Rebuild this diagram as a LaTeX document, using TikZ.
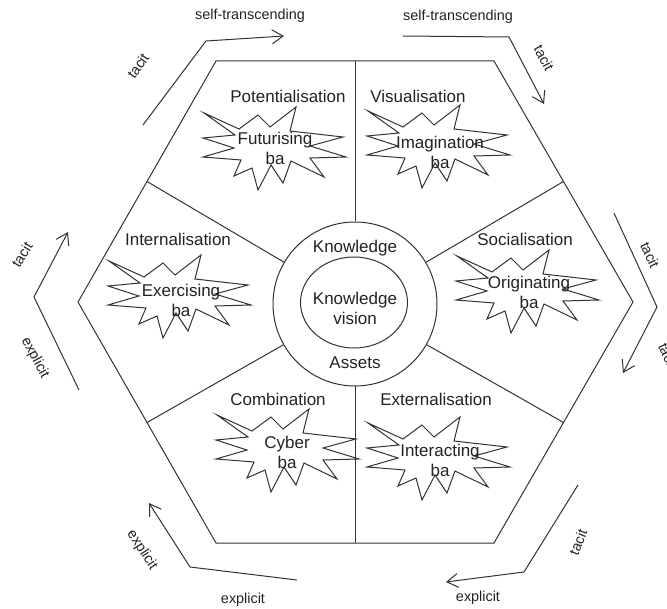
\documentclass[tikz,border=0pt]{standalone}
\usepackage{fontspec}
\setmainfont{Liberation Sans}
\usetikzlibrary{arrows.meta,shapes.geometric}
\definecolor{ink}{HTML}{222222}
\definecolor{linec}{HTML}{333333}
\begin{document}
\begin{tikzpicture}[x=1pt,y=-1pt,
  big/.style={font=\fontsize{17}{20}\selectfont, text=ink, align=center, inner sep=0},
  small/.style={font=\fontsize{14.4}{16}\selectfont, text=ink, inner sep=0},
  frame/.style={draw=linec, line width=1pt},
  arr/.style={draw=linec, line width=1pt, line join=miter, -{Straight Barb[length=11pt,width=14pt]}},
  kaboom/.pic={\draw[draw=linec, line width=1pt, line join=miter, miter limit=20]
    (-70,-36) -- (-35,-20) -- (-16,-34) -- (-4,-22) -- (22,-42) -- (16,-18)
    -- (69,-12) -- (36,-3) -- (72,8) -- (36,9) -- (50,28) -- (17,12)
    -- (9,34) -- (-3,16) -- (-16,41) -- (-22,19) -- (-40,27) -- (-33,11)
    -- (-71,8) -- (-40,-1) -- (-71,-11) -- (-39,-14) -- cycle;}
]
\useasboundingbox (0,0) rectangle (667,609);

% hexagon
\coordinate (vTL) at (216,61);
\coordinate (vTR) at (494,61);
\coordinate (vR) at (633,302);
\coordinate (vBR) at (494,543);
\coordinate (vBL) at (216,543);
\coordinate (vL) at (78,302);
\draw[frame] (vTL) -- (vTR) -- (vR) -- (vBR) -- (vBL) -- (vL) -- cycle;

% centre circles
\node[circle, draw=linec, line width=1pt, minimum size=164pt, inner sep=0] (outer) at (355,304) {};
\node[ellipse, draw=linec, line width=1pt, minimum width=107pt, minimum height=91pt, inner sep=0] (inner) at (354,302.5) {};
\node[big] (know) at (355,248) {Knowledge};
\node[big] (kv) at (355,308) {Knowledge\\vision};
\node[big] (assets) at (355,363) {Assets};

% dividers
\coordinate (mT) at (355,61);
\coordinate (mB) at (355,543);
\coordinate (mUL) at (147,181.5);
\coordinate (mLL) at (147,422.5);
\coordinate (mUR) at (563.5,181.5);
\coordinate (mLR) at (563.5,422.5);
\foreach \m in {mT,mB,mUL,mLL,mUR,mLR} \draw[frame] (\m) -- (outer);

% sector titles
\node[big] (pot) at (288,96) {Potentialisation};
\node[big] (vis) at (418,96) {Visualisation};
\node[big] (int) at (178,239) {Internalisation};
\node[big] (soc) at (525,239) {Socialisation};
\node[big] (com) at (278,399) {Combination};
\node[big] (ext) at (436,399) {Externalisation};

% ba stars
\pic at (274,149) {kaboom};
\node[big] (fut) at (275,148) {Futurising\\ba};
\pic at (438,147) {kaboom};
\node[big] (ima) at (440,152) {Imagination\\ba};
\pic at (179,297) {kaboom};
\node[big] (exe) at (181,300) {Exercising\\ba};
\pic at (527,292) {kaboom};
\node[big] (ori) at (529,292) {Originating\\ba};
\pic at (287,451) {kaboom};
\node[big] (cyb) at (287,452) {Cyber\\ba};
\pic at (438,459) {kaboom};
\node[big] (inter) at (440,460) {Interacting\\ba};

% outer arrows
\coordinate (a1s) at (143,125); \coordinate (a1m) at (206,41); \coordinate (a1e) at (284,36);
\draw[arr] (a1s) -- (a1m) -- (a1e);
\node[small, rotate=55] (t1) at (138,66) {tacit};
\node[small] (s1) at (250,16) {self-transcending};

\coordinate (a2s) at (403,36); \coordinate (a2m) at (509,37); \coordinate (a2e) at (544,104);
\draw[arr] (a2s) -- (a2m) -- (a2e);
\node[small, rotate=-62] (t2) at (544,58) {tacit};
\node[small] (s2) at (458,17) {self-transcending};

\coordinate (a3s) at (614,213); \coordinate (a3m) at (657,307); \coordinate (a3e) at (623,373);
\draw[arr] (a3s) -- (a3m) -- (a3e);
\node[small, rotate=-65] (t3) at (650,255) {tacit};
\begin{scope}
\clip (0,0) rectangle (667,609);
\node[small, rotate=-65] (t3b) at (668,356) {tacit};
\end{scope}

\coordinate (a4s) at (578,485); \coordinate (a4m) at (524,572); \coordinate (a4e) at (446,582);
\draw[arr] (a4s) -- (a4m) -- (a4e);
\node[small, rotate=68] (t4) at (578,542) {tacit};
\node[small] (e4) at (478,598) {explicit};

\coordinate (a5s) at (297,580); \coordinate (a5m) at (190,567); \coordinate (a5e) at (149,503);
\draw[arr] (a5s) -- (a5m) -- (a5e);
\node[small, rotate=-57] (e5) at (142,550) {explicit};
\node[small] (e5b) at (243,600) {explicit};

\coordinate (a6s) at (79,390); \coordinate (a6m) at (34,297); \coordinate (a6e) at (68,232);
\draw[arr] (a6s) -- (a6m) -- (a6e);
\node[small, rotate=58] (t6) at (22,255) {tacit};
\node[small, rotate=-62] (e6) at (35,358) {explicit};
\end{tikzpicture}
\end{document}
